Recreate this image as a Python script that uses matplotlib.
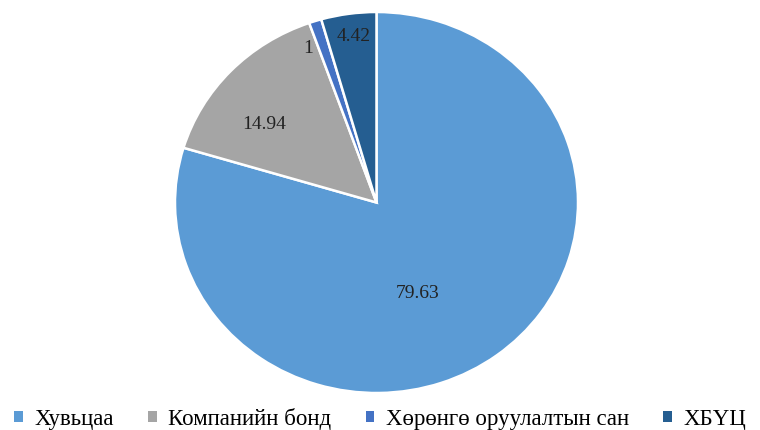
import matplotlib
matplotlib.use("Agg")
import matplotlib.pyplot as plt
from matplotlib.patches import Patch

plt.rcParams['font.family'] = ['Liberation Serif', 'DejaVu Serif']

categories = ["Хувьцаа", "Компанийн бонд", "Хөрөнгө оруулалтын сан", "ХБҮЦ"]
values = [79.63, 14.94, 1, 4.42]
value_labels = ["79.63", "14.94", "1", "4.42"]
colors = ["#5B9BD5", "#A5A5A5", "#4472C4", "#255E91"]

W, H = 760, 430
fig = plt.figure(figsize=(W / 100, H / 100), dpi=100)
# pie box in pixels: x 175..578, y 12..393
ax = fig.add_axes([175 / W, (H - 393) / H, 403 / W, 381 / H])
wedges, _ = ax.pie(values, colors=colors, startangle=90, counterclock=False,
                   radius=1, wedgeprops=dict(edgecolor="white", linewidth=1.8))
ax.set_aspect('auto')
ax.set_xlim(-1, 1)
ax.set_ylim(-1, 1)
ax.axis('off')

label_pos = [(0.203, -0.48), (-0.56, 0.41), (-0.34, 0.81), (-0.114, 0.874)]
for (x, y), txt in zip(label_pos, value_labels):
    ax.text(x, y, txt, ha='center', va='center', fontsize=14, color='#222222')

handles = [Patch(facecolor=c, edgecolor='none') for c in colors]
fig.legend(handles, categories, loc='center', bbox_to_anchor=(0.5, (H - 419) / H),
           ncol=4, frameon=False, fontsize=16.5, handlelength=0.38, handleheight=0.38,
           handletextpad=0.5, columnspacing=1.5, borderaxespad=0)

fig.savefig("out.png", dpi=100)
